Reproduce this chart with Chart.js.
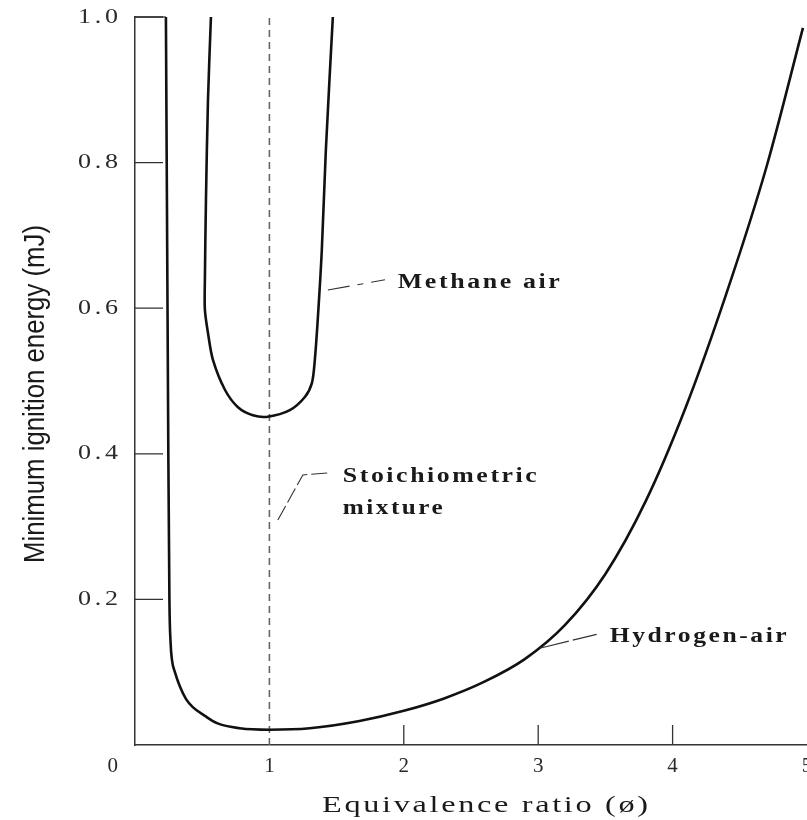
<!DOCTYPE html>
<html>
<head>
<meta charset="utf-8">
<script src="https://cdn.jsdelivr.net/npm/chart.js@4.4.0/dist/chart.umd.min.js"></script>
<style>
  html, body { margin: 0; padding: 0; background: #fff; }
  #wrap { width: 807px; height: 820px; }
</style>
</head>
<body>
<div id="wrap"><canvas id="mie"></canvas></div>
<script>
// hydrogen-air curve (equivalence ratio, mJ)
var hydrogenX = [0.23, 0.236, 0.242, 0.248, 0.256, 0.265, 0.275, 0.297, 0.335, 0.38, 0.43, 0.52, 0.61, 0.78, 1.0, 1.3, 1.67, 2.0, 2.3, 2.6, 2.9, 3.2, 3.5, 3.8, 4.1, 4.4, 4.7, 4.97];
var hydrogenY = [1.0, 0.8, 0.6, 0.4, 0.2, 0.14, 0.117, 0.1, 0.08, 0.063, 0.052, 0.040, 0.030, 0.023, 0.021, 0.023, 0.033, 0.047, 0.064, 0.087, 0.118, 0.165, 0.235, 0.335, 0.465, 0.62, 0.795, 0.985];

// methane-air curve
var methaneX = [0.565, 0.543, 0.528, 0.52, 0.52, 0.543, 0.58, 0.669, 0.766, 0.877, 0.989, 1.152, 1.264, 1.316, 1.338, 1.361, 1.39, 1.42, 1.472];
var methaneY = [1.0, 0.886, 0.749, 0.639, 0.598, 0.566, 0.529, 0.488, 0.464, 0.453, 0.451, 0.460, 0.478, 0.497, 0.529, 0.588, 0.680, 0.817, 1.0];

// stoichiometric line
var stoichX = [1, 1];
var stoichY = [0, 1.0];

var xTicks = [1, 2, 3, 4, 5];
var xTickLabels = ['1', '2', '3', '4', '5'];
var yTicks = [0.2, 0.4, 0.6, 0.8, 1.0];
var yTickLabels = ['0.2', '0.4', '0.6', '0.8', '1.0'];

function pts(xs, ys) {
  var out = [];
  for (var i = 0; i < xs.length; i++) out.push({x: xs[i], y: ys[i]});
  return out;
}

// draw text stretched horizontally to a given width, with a little letter spacing
function stretched(ctx, str, x, y, width, gap) {
  ctx.save();
  ctx.letterSpacing = (gap || 0) + 'px';
  var w = ctx.measureText(str).width - (gap || 0);
  ctx.translate(x, y);
  ctx.scale(width / w, 1);
  ctx.textAlign = 'left';
  ctx.fillText(str, 0, 0);
  ctx.restore();
}

var decor = {
  id: 'decor',
  afterDraw: function(chart) {
    var ctx = chart.ctx;
    var xs = chart.scales.x, ys = chart.scales.y;
    var area = chart.chartArea;
    var px = function(v) { return xs.getPixelForValue(v); };
    var py = function(v) { return ys.getPixelForValue(v); };
    ctx.save();

    // inward ticks
    ctx.strokeStyle = '#333';
    ctx.lineWidth = 1.3;
    ctx.beginPath();
    yTicks.forEach(function(v) {
      ctx.moveTo(area.left, py(v));
      ctx.lineTo(area.left + 28, py(v));
    });
    xTicks.slice(1, 4).forEach(function(v) {
      ctx.moveTo(px(v), area.bottom);
      ctx.lineTo(px(v), area.bottom - 20);
    });
    ctx.stroke();

    // tick labels
    ctx.fillStyle = '#2a2a2a';
    ctx.font = '21px "Liberation Serif", serif';
    ctx.textBaseline = 'middle';
    yTickLabels.forEach(function(t, i) {
      stretched(ctx, t, area.left - 57, py(yTicks[i]), 40, 3);
    });
    xTickLabels.forEach(function(t, i) {
      ctx.textAlign = 'center';
      ctx.fillText(t, px(xTicks[i]), area.bottom + 21);
    });
    ctx.textAlign = 'right';
    ctx.fillText('0', area.left - 17, area.bottom + 21);

    // axis titles
    ctx.fillStyle = '#1a1a1a';
    ctx.font = '24px "Liberation Serif", serif';
    stretched(ctx, 'Equivalence ratio (\u00f8)', 322, 806, 326, 2);

    ctx.save();
    ctx.translate(44, 394);
    ctx.rotate(-Math.PI / 2);
    ctx.font = '30px "Liberation Sans", sans-serif';
    var yt = 'Minimum ignition energy (mJ)';
    var tw = ctx.measureText(yt).width;
    ctx.scale(338 / tw, 1);
    ctx.textAlign = 'center';
    ctx.textBaseline = 'alphabetic';
    ctx.fillText(yt, 0, 0);
    ctx.restore();

    // annotations
    ctx.font = 'bold 20px "Liberation Serif", serif';
    ctx.textBaseline = 'middle';
    stretched(ctx, 'Methane air', px(1.955), py(0.635), 162, 2);
    stretched(ctx, 'Stoichiometric', px(1.546), py(0.368), 194, 2);
    stretched(ctx, 'mixture', px(1.546), py(0.324), 100, 2);
    stretched(ctx, 'Hydrogen-air', px(3.532), py(0.148), 177, 2);

    ctx.strokeStyle = '#333';
    ctx.lineWidth = 1.1;
    ctx.setLineDash([22, 8, 6, 8]);
    ctx.beginPath();
    ctx.moveTo(px(1.435), py(0.625));
    ctx.lineTo(px(1.86), py(0.639));
    ctx.stroke();
    ctx.setLineDash([16, 4]);
    ctx.beginPath();
    ctx.moveTo(px(1.063), py(0.309));
    ctx.lineTo(px(1.249), py(0.371));
    ctx.lineTo(px(1.45), py(0.374));
    ctx.stroke();
    ctx.setLineDash([30, 4]);
    ctx.beginPath();
    ctx.moveTo(px(3.011), py(0.133));
    ctx.lineTo(px(3.435), py(0.152));
    ctx.stroke();
    ctx.setLineDash([]);

    // small top frame piece
    ctx.lineWidth = 1.3;
    ctx.beginPath();
    ctx.moveTo(area.left, py(1.0));
    ctx.lineTo(px(0.23), py(1.0));
    ctx.stroke();

    ctx.restore();
  }
};

var ctx = document.getElementById('mie');

var chart = new Chart(ctx, {
  type: 'scatter',
  data: {
    datasets: [
      {
        label: 'Hydrogen-air',
        data: pts(hydrogenX, hydrogenY),
        showLine: true,
        borderColor: '#111',
        borderWidth: 2.6,
        pointRadius: 0,
        cubicInterpolationMode: 'monotone',
        clip: false
      },
      {
        label: 'Methane air',
        data: pts(methaneX, methaneY),
        showLine: true,
        borderColor: '#111',
        borderWidth: 2.6,
        pointRadius: 0,
        tension: 0.3,
        clip: false
      },
      {
        label: 'Stoichiometric mixture',
        data: pts(stoichX, stoichY),
        showLine: true,
        borderColor: '#666',
        borderWidth: 1.6,
        borderDash: [7, 5],
        pointRadius: 0,
        clip: false
      }
    ]
  },
  options: {
    responsive: true,
    maintainAspectRatio: false,
    animation: false,
    layout: { padding: { left: 135, top: 17, right: 0, bottom: 75 } },
    plugins: {
      legend: { display: false },
      tooltip: { enabled: false }
    },
    scales: {
      x: {
        type: 'linear',
        min: 0,
        max: 5,
        grid: { display: true, drawOnChartArea: false, drawTicks: false },
        border: { display: true, color: '#333', width: 1.5 },
        ticks: { display: false },
        afterFit: function(s) { s.height = 0; s.paddingLeft = 0; s.paddingRight = 0; }
      },
      y: {
        type: 'linear',
        min: 0,
        max: 1.0,
        grid: { display: true, drawOnChartArea: false, drawTicks: false },
        border: { display: true, color: '#333', width: 1.5 },
        ticks: { display: false },
        afterFit: function(s) { s.width = 0; s.paddingTop = 0; s.paddingBottom = 0; }
      }
    }
  },
  plugins: [decor]
});
</script>
</body>
</html>
